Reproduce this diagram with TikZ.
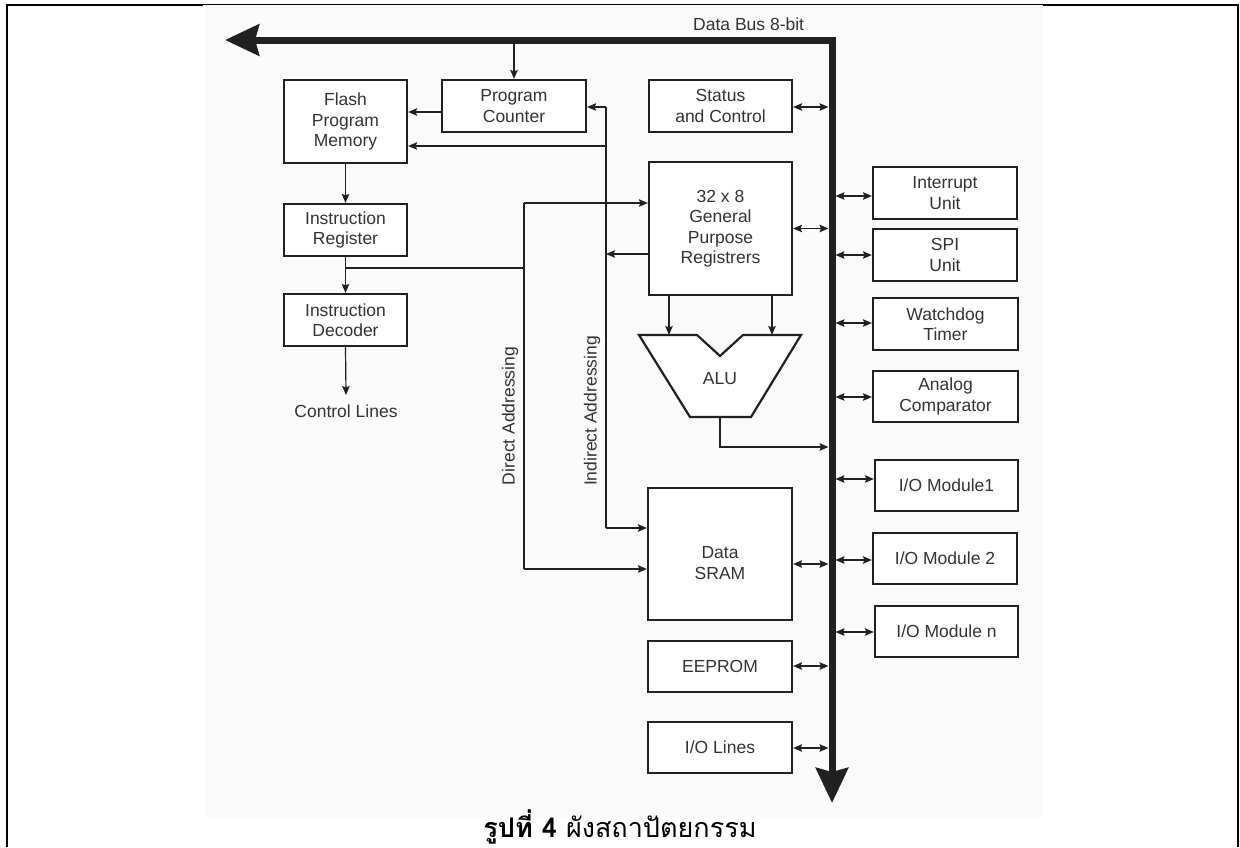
\documentclass[tikz,border=0pt]{standalone}
\usepackage{fontspec}
\setmainfont{Liberation Sans}
\newfontfamily\thaifont[Script=Thai]{Loma}
\usetikzlibrary{arrows.meta}
\definecolor{ink}{gray}{0.13}
\definecolor{txt}{gray}{0.2}
\newcommand\lblfont{\fontsize{17.5}{20.5}\selectfont}
\tikzset{
  blk/.style={draw=ink, line width=2.2pt, fill=white, align=center, inner sep=0pt, text=txt, font=\lblfont},
  lbl/.style={text=txt, font=\lblfont, align=center, inner sep=0pt},
  conn/.style={draw=ink, line width=1.2pt},
  arr/.style={conn, -{Stealth[length=9pt,width=7.5pt,inset=1.5pt]}},
  dbl/.style={conn, {Stealth[length=9pt,width=7.5pt,inset=1.5pt]}-{Stealth[length=9pt,width=7.5pt,inset=1.5pt]}},
  bus/.style={draw=ink, line width=7pt, line join=miter,
    {Stealth[length=34pt,width=31pt,inset=4pt]}-{Stealth[length=35pt,width=32pt,inset=4pt]}},
  frame/.style={draw=black, line width=2.6pt}
}
\begin{document}
\begin{tikzpicture}[x=1pt,y=-1pt]
\useasboundingbox (0,0) rectangle (1240,847);
% pasted image background
\fill[black!2] (205,6) rectangle (1043,817);
% outer frame
\draw[frame] (7,847) -- (7,5) -- (203,5);
\draw[black, line width=1pt] (203,4.5) -- (1043,4.5);
\draw[frame] (1043,5) -- (1238,5) -- (1238,847);

% data bus
\coordinate (busTipL) at (225,40);
\coordinate (busCorner) at (832,40);
\coordinate (busTipB) at (832,803);
\coordinate (busL) at (828.5,40);
\coordinate (busR) at (835.5,40);
\draw[bus] (busTipL) -- (busCorner) -- (busTipB);
\node[lbl, anchor=west] (busname) at (693,24) {Data Bus 8-bit};

% left column
\node[blk, minimum width=123pt, minimum height=83pt] (flash) at (345.5,121.5) {Flash\\Program\\Memory};
\node[blk, minimum width=144pt, minimum height=52pt] (pc) at (514,106) {Program\\Counter};
\node[blk, minimum width=123pt, minimum height=52pt] (ir) at (345.5,230) {Instruction\\Register};
\node[blk, minimum width=123pt, minimum height=52pt] (id) at (345.5,320) {Instruction\\Decoder};
\node[lbl] (ctrl) at (346,411) {Control Lines};

% middle column
\node[blk, minimum width=143pt, minimum height=52pt] (status) at (720.5,106) {Status\\and Control};
\node[blk, minimum width=143pt, minimum height=133pt] (gpr) at (720.5,228.5) {32 x 8\\General\\Purpose\\Registrers};
\node[blk, minimum width=144pt, minimum height=132pt] (sram) at (720,554) {};
\node[lbl] (sramtxt) at (720,563) {Data\\SRAM};
\node[blk, minimum width=144pt, minimum height=51pt] (eeprom) at (720,666.5) {EEPROM};
\node[blk, minimum width=144pt, minimum height=51pt] (iolines) at (720,747.5) {I/O Lines};

% ALU
\coordinate (a1) at (639,335);
\coordinate (a2) at (697,335);
\coordinate (a3) at (720,356);
\coordinate (a4) at (743,335);
\coordinate (a5) at (801,335);
\coordinate (a6) at (751,417);
\coordinate (a7) at (690,417);
\draw[draw=ink, line width=2.2pt, line join=miter, fill=white] (a1) -- (a2) -- (a3) -- (a4) -- (a5) -- (a6) -- (a7) -- cycle;
\node[lbl] (alu) at (720,379) {ALU};
\coordinate (aluInL) at (669,335);
\coordinate (aluInR) at (772,335);
\coordinate (aluOut) at (720,417);
\coordinate (aluBend) at (720,447);

% right column
\node[blk, minimum width=144pt, minimum height=52pt] (intr) at (945,193) {Interrupt\\Unit};
\node[blk, minimum width=144pt, minimum height=52pt] (spi) at (945,255) {SPI\\Unit};
\node[blk, minimum width=145pt, minimum height=52pt] (wdt) at (945.5,324) {Watchdog\\Timer};
\node[blk, minimum width=145pt, minimum height=51pt] (acmp) at (945.5,396.5) {Analog\\Comparator};
\node[blk, minimum width=143pt, minimum height=51pt] (io1) at (946.5,485.5) {I/O Module1};
\node[blk, minimum width=144pt, minimum height=51pt] (io2) at (945,558.5) {I/O Module 2};
\node[blk, minimum width=143pt, minimum height=51pt] (ion) at (946.5,631.5) {I/O Module n};

% rotated labels
\node[lbl, rotate=90] (dirlbl) at (510,416) {Direct Addressing};
\node[lbl, rotate=90] (indlbl) at (592,411) {Indirect Addressing};

% bus to program counter
\draw[arr] (pc.north |- 0,43.5) -- (pc.north);
% program counter to flash
\draw[arr] (pc.west |- 0,112) -- (flash.east |- 0,112);
% flash -> IR -> ID -> control lines
\draw[arr] (flash.south) -- (ir.north);
\draw[arr] (ir.south) -- (id.north);
\draw[arr] (id.south) -- (ctrl.north |- 0,395);

% indirect addressing path
\coordinate (iT) at (606,107);
\coordinate (iF) at (606,146);
\coordinate (iG) at (606,254);
\coordinate (iB) at (606,528);
\draw[conn] (iT) -- (iB);
\draw[arr] (iT) -- (pc.east |- iT);
\draw[arr] (iF) -- (flash.east |- iF);
\draw[arr] (gpr.west |- iG) -- (iG);
\draw[arr] (iB) -- (sram.west |- iB);

% direct addressing path
\coordinate (dT) at (524,203);
\coordinate (dJ) at (524,268);
\coordinate (dB) at (524,569);
\draw[conn] (ir.south |- dJ) -- (dJ);
\draw[conn] (dT) -- (dB);
\draw[arr] (dT) -- (gpr.west |- dT);
\draw[arr] (dB) -- (sram.west |- dB);

% GPR to ALU and ALU out
\draw[arr] (gpr.south -| aluInL) -- (aluInL);
\draw[arr] (gpr.south -| aluInR) -- (aluInR);
\draw[arr] (aluOut) -- (aluBend) -- (busL |- aluBend);

% bus links, left side
\draw[dbl] (status.east |- 0,107) -- (busL |- 0,107);
\draw[dbl] (gpr.east) -- (busL |- gpr.east);
\draw[dbl] (sram.east |- 0,564) -- (busL |- 0,564);
\draw[dbl] (eeprom.east |- 0,666) -- (busL |- 0,666);
\draw[dbl] (iolines.east |- 0,748) -- (busL |- 0,748);

% bus links, right side
\draw[dbl] (busR |- 0,196) -- (intr.west |- 0,196);
\draw[dbl] (busR |- 0,255) -- (spi.west |- 0,255);
\draw[dbl] (busR |- 0,323) -- (wdt.west |- 0,323);
\draw[dbl] (busR |- 0,397) -- (acmp.west |- 0,397);
\draw[dbl] (busR |- 0,479) -- (io1.west |- 0,479);
\draw[dbl] (busR |- 0,560) -- (io2.west |- 0,560);
\draw[dbl] (busR |- 0,632) -- (ion.west |- 0,632);

% caption
\node[inner sep=0pt, text=black, anchor=base] (caption) at (620,837) {\thaifont\fontsize{27}{30}\selectfont\bfseries รูปที่ 4\mdseries\ ผังสถาปัตยกรรม};
\end{tikzpicture}
\end{document}
